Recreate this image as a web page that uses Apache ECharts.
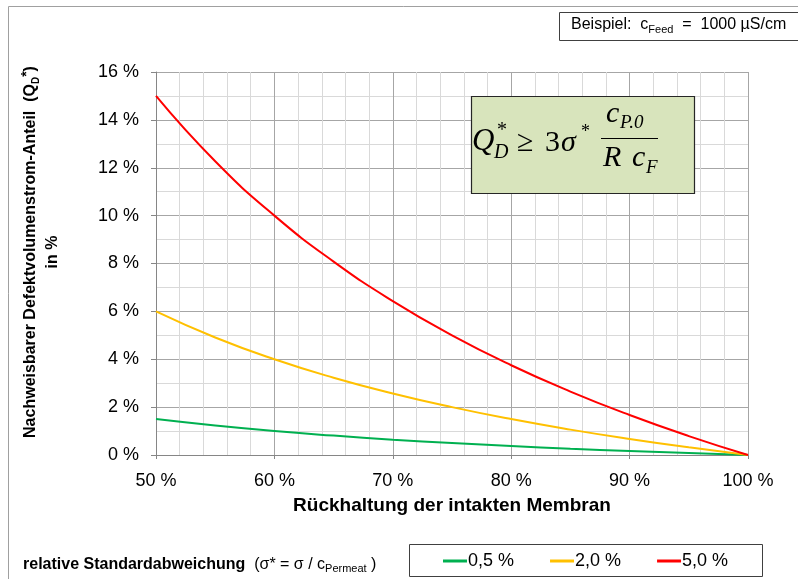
<!DOCTYPE html>
<html><head><meta charset="utf-8">
<script src="https://cdn.jsdelivr.net/npm/echarts@6/dist/echarts.min.js"></script>
<style>html,body{margin:0;padding:0;background:#fff}#c{width:798px;height:579px}</style>
</head><body><div id="c"></div>
<script>
const retention = [50, 55, 60, 65, 70, 75, 80, 85, 90, 95, 100];
const sigma05 = [1.5, 1.23, 1.0, 0.81, 0.64, 0.5, 0.375, 0.26, 0.17, 0.08, 0];
const sigma20 = [6.0, 4.91, 4.0, 3.23, 2.57, 2.0, 1.5, 1.06, 0.67, 0.32, 0];
const sigma50 = [15.0, 12.27, 10.0, 8.08, 6.43, 5.0, 3.75, 2.65, 1.67, 0.79, 0];
const seriesNames = ['0,5 %', '2,0 %', '5,0 %'];
const colors = ['#00b050', '#ffc000', '#ff0000'];

const font = 'Liberation Sans, Arial, sans-serif';
const serif = 'Liberation Serif, DejaVu Serif, serif';
const chart = echarts.init(document.getElementById('c'));
const pairs = arr => retention.map((x, i) => [x, arr[i]]);
chart.setOption({
  animation: false,
  grid: {left: 156, right: 50, top: 72, bottom: 124},
  xAxis: {
    type: 'value', min: 50, max: 100, interval: 10,
    axisLine: {lineStyle: {color: '#868686'}},
    axisTick: {show: true, length: 4, lineStyle: {color: '#868686'}},
    axisLabel: {formatter: v => v + ' %', color: '#000', fontFamily: font, fontSize: 18, margin: 17},
    splitLine: {show: true, lineStyle: {color: '#a6a6a6', width: 1}},
    minorTick: {show: false, splitNumber: 5},
    minorSplitLine: {show: true, lineStyle: {color: '#d9d9d9', width: 1}},
    name: 'Rückhaltung der intakten Membran', nameLocation: 'middle', nameGap: 41,
    nameTextStyle: {color: '#000', fontFamily: font, fontSize: 19, fontWeight: 'bold'}
  },
  yAxis: {
    type: 'value', min: 0, max: 16, interval: 2,
    axisLine: {show: true, lineStyle: {color: '#868686'}},
    axisTick: {show: true, length: 5, lineStyle: {color: '#868686'}},
    axisLabel: {formatter: v => v + ' %', color: '#000', fontFamily: font, fontSize: 18, margin: 17},
    splitLine: {show: true, lineStyle: {color: '#a6a6a6', width: 1}},
    minorTick: {show: false, splitNumber: 2},
    minorSplitLine: {show: true, lineStyle: {color: '#d9d9d9', width: 1}}
  },
  legend: {
    left: 438, top: 547, itemWidth: 24, itemHeight: 3, itemGap: 36,
    icon: 'rect',
    textStyle: {color: '#000', fontFamily: font, fontSize: 18, padding: [0, 0, 0, -4]},
    data: seriesNames
  },
  series: [sigma05, sigma20, sigma50].map((arr, i) => ({
    name: seriesNames[i], type: 'line', smooth: true, symbol: 'none',
    data: pairs(arr), lineStyle: {color: colors[i], width: 2}, itemStyle: {color: colors[i]}
  })),
  graphic: [
    {type: 'rect', shape: {x: 8.5, y: 6.5, width: 800, height: 600}, style: {fill: 'none', stroke: '#a0a0a0', lineWidth: 1}, silent: true},
    {type: 'rect', shape: {x: 559.5, y: 12.5, width: 250, height: 28}, style: {fill: '#fff', stroke: '#404040', lineWidth: 1}},
    {type: 'text', left: 571, top: 17, style: {
      text: 'Beispiel:  c{sub|Feed}  =  1000 µS/cm', font: '16px ' + font, fill: '#000',
      rich: {sub: {fontSize: 11, fontFamily: font, verticalAlign: 'bottom', padding: [9, 0, 0, 0]}}
    }},
    {type: 'rect', z: 10, shape: {x: 471.5, y: 96.5, width: 223, height: 97}, style: {fill: '#d8e4bc', stroke: '#262626', lineWidth: 1.2}},
    {type: 'text', z: 11, left: 472, top: 126, style: {text: 'Q', font: 'italic 31px ' + serif, fill: '#000'}},
    {type: 'text', z: 11, left: 494, top: 143, style: {text: 'D', font: 'italic 20px ' + serif, fill: '#000'}},
    {type: 'text', z: 11, left: 497, top: 121, style: {text: '*', font: '20px ' + serif, fill: '#000'}},
    {type: 'text', z: 11, left: 517, top: 128, style: {text: '≥', font: '30px ' + serif, fill: '#000'}},
    {type: 'text', z: 11, left: 545, top: 128, style: {text: '3', font: '30px ' + serif, fill: '#000'}},
    {type: 'text', z: 11, left: 561, top: 128, style: {text: 'σ', font: 'italic 30px ' + serif, fill: '#000'}},
    {type: 'text', z: 11, left: 581, top: 123, style: {text: '*', font: '18px ' + serif, fill: '#000'}},
    {type: 'line', z: 11, shape: {x1: 601, y1: 138.5, x2: 658, y2: 138.5}, style: {stroke: '#000', lineWidth: 1.2}},
    {type: 'text', z: 11, left: 606, top: 99, style: {text: 'c', font: 'italic 30px ' + serif, fill: '#000'}},
    {type: 'text', z: 11, left: 620, top: 113, style: {text: 'P.0', font: 'italic 19px ' + serif, fill: '#000'}},
    {type: 'text', z: 11, left: 603, top: 143, style: {text: 'R', font: 'italic 30px ' + serif, fill: '#000'}},
    {type: 'text', z: 11, left: 632, top: 143, style: {text: 'c', font: 'italic 30px ' + serif, fill: '#000'}},
    {type: 'text', z: 11, left: 646, top: 158, style: {text: 'F', font: 'italic 19px ' + serif, fill: '#000'}},
    {type: 'text', x: 31, y: 252, rotation: Math.PI / 2, style: {
      text: 'Nachweisbarer Defektvolumenstrom-Anteil  (Q{sub|D}{sup|*})',
      font: 'bold 16px ' + font, fill: '#000', align: 'center', verticalAlign: 'middle',
      rich: {
        sub: {fontSize: 10, fontWeight: 'bold', fontFamily: font, padding: [8, 0, 0, 0], verticalAlign: 'bottom'},
        sup: {fontSize: 14, fontWeight: 'bold', fontFamily: font, padding: [0, 0, 7, 0], verticalAlign: 'top'}
      }
    }},
    {type: 'text', x: 53, y: 252, rotation: Math.PI / 2, style: {
      text: 'in %', font: 'bold 16px ' + font, fill: '#000', align: 'center', verticalAlign: 'middle'
    }},
    {type: 'text', left: 23, top: 557, style: {
      text: '{b|relative Standardabweichung}  (σ* = σ / c{sub|Permeat} )',
      font: '16px ' + font, fill: '#000',
      rich: {
        b: {fontWeight: 'bold', fontSize: 16, fontFamily: font},
        sub: {fontSize: 11, fontFamily: font, padding: [8, 0, 0, 0], verticalAlign: 'bottom'}
      }
    }},
    {type: 'rect', shape: {x: 409.5, y: 544.5, width: 353, height: 32}, style: {fill: 'none', stroke: '#404040', lineWidth: 1}}
  ]
});
</script></body></html>
